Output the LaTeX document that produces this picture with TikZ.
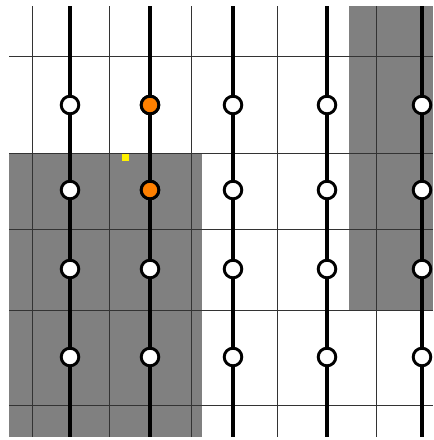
\documentclass[tikz,border=0pt]{standalone}
\usepackage{tikz}
\usetikzlibrary{positioning}

\begin{document}
\begin{tikzpicture}[
      x=0.75pt, y=-0.75pt,
      gridline/.style={draw=black!80, line width=0.75pt},
      block/.style={fill=gray, draw=none},
      wire/.style={draw=black, line width=2.4pt},
      site/.style={circle, draw=black, fill=white, line width=2.2pt, minimum size=13.2pt, inner sep=0pt},
      hot/.style={site, fill=orange},
      marker/.style={fill=yellow, draw=none}
  ]
  
  \useasboundingbox (0,0) rectangle (433,440);
  \clip (0,0) rectangle (433,440);
  
  % shaded regions
  \fill[block] (9,153) rectangle (202,437);
  \fill[block] (349,6) rectangle (433,310);
  \fill[marker] (122,154) rectangle (129,161);
  
  % thin grid
  \foreach \x in {32,109,191,277,376}
    \draw[gridline] (\x,6) -- (\x,437);
  \foreach \y in {56,153,229,310,405}
    \draw[gridline] (9,\y) -- (433,\y);
  
  % wires with sites
  \foreach \x [count=\i] in {70,150,233,327,422} {
    \coordinate (top\i) at (\x,6);
    \coordinate (bot\i) at (\x,437);
    \draw[wire] (top\i) -- (bot\i);
    \foreach \y [count=\j] in {105,190,269,357}
      \node[site] (s\i\j) at (\x,\y) {};
  }
  
  \node[hot] (s21) at (150,105) {};
  \node[hot] (s22) at (150,190) {};
  
  \end{tikzpicture}
\end{document}
